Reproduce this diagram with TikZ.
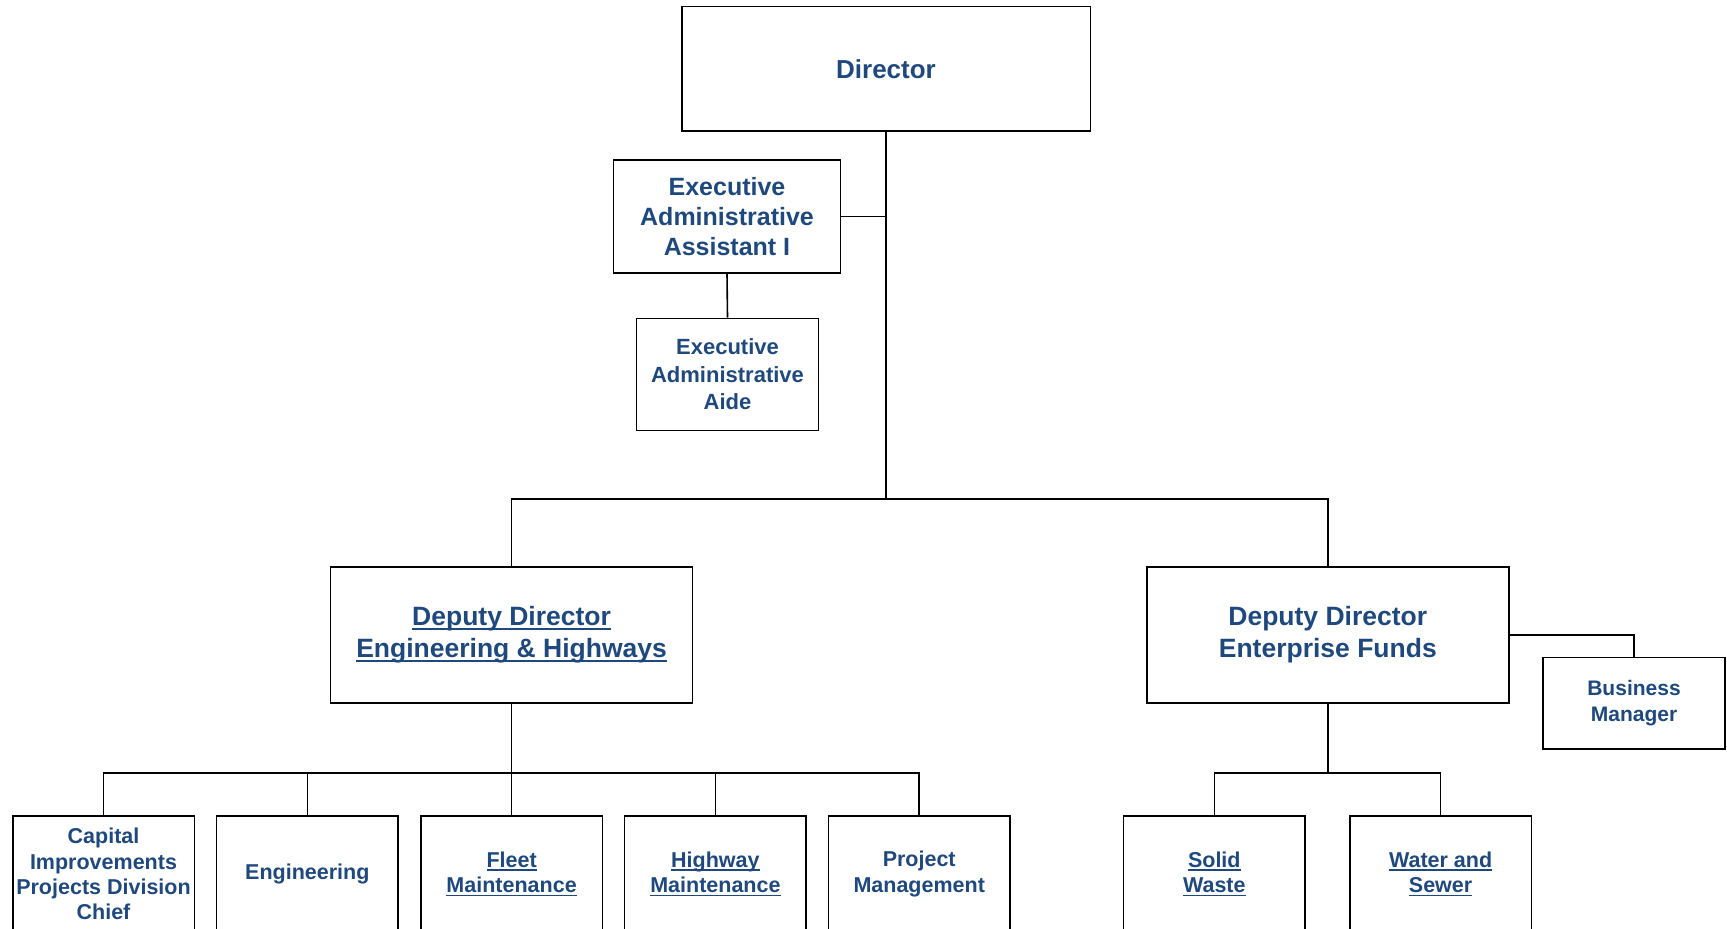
\documentclass[tikz,border=0pt]{standalone}
\usepackage{fontspec}
\setmainfont{Liberation Sans}
\usepackage{tikz}
\usetikzlibrary{positioning}
\definecolor{orgblue}{RGB}{31,73,125}
\newcommand{\ulink}[1]{\setbox0\hbox{#1}\rlap{\rule[-4pt]{\wd0}{1.8pt}}\box0}
\tikzset{
  basic/.style  = {draw, rectangle, line width=1.6pt, inner sep=0pt, align=center,
                   font=\bfseries, text=orgblue},
  top box/.style = {basic, font=\bfseries\fontsize{25}{30}\selectfont},
  mid box/.style = {basic, font=\bfseries\fontsize{26.5}{32}\selectfont,
                   minimum width=362pt, minimum height=135.5pt},
  unit box/.style = {basic, font=\bfseries\fontsize{21.5}{25.3}\selectfont,
                   minimum width=181.6pt, minimum height=116pt},
  link/.style = {line width=1.6pt}
}

\begin{document}
\begin{tikzpicture}[x=1pt,y=-1pt]
\useasboundingbox (0,0) rectangle (1727,929);
\clip (0,0) rectangle (1727,929);

% top of the chart
\node[top box, minimum width=408.6pt, minimum height=124.4pt,
      font=\bfseries\fontsize{26}{30}\selectfont] (dir) at (886,68.8) {Director};
\node[top box, minimum width=227pt, minimum height=113.4pt] (eaa) at (727,216.4)
  {Executive\\Administrative\\Assistant I};
\node[basic, minimum width=181.7pt, minimum height=112.3pt,
      font=\bfseries\fontsize{22}{27.5}\selectfont] (aide) at (727.5,374.5)
  {Executive\\Administrative\\Aide};

% deputies
\node[mid box] (ddeng) at (511.6,635) {\ulink{Deputy Director}\\\ulink{Engineering \& Highways}};
\node[mid box] (ddent) at (1327.8,635) {Deputy Director\\Enterprise Funds};
\node[basic, minimum width=181.8pt, minimum height=91.5pt,
      font=\bfseries\fontsize{21}{26.4}\selectfont] (bm) at (1634,703.3) {Business\\Manager};

% divisions
\node[unit box] (cap) at (103.5,874) {Capital\\Improvements\\Projects Division\\Chief};
\node[unit box] (eng) at (307.3,874) {Engineering};
\node[unit box] (fleet) at (511.6,874) {\ulink{Fleet}\\\ulink{Maintenance}};
\node[unit box] (hwy) at (715.4,874) {\ulink{Highway}\\\ulink{Maintenance}};
\node[unit box] (proj) at (919.2,874) {Project\\Management};
\node[unit box] (solid) at (1214.3,874) {\ulink{Solid}\\\ulink{Waste}};
\node[unit box] (water) at (1440.6,874) {\ulink{Water and}\\\ulink{Sewer}};

\coordinate (top) at (886,499);
\coordinate (engbus) at (511.6,773.2);
\coordinate (entbus) at (1327.8,773.2);

% connectors
\draw[link] (dir.south) -- (top);
\draw[link] (eaa.east) -- (eaa.east -| dir.south);
\draw[link] (eaa.south) -- (aide.north);
\draw[link] (ddeng.north) |- (top) -| (ddent.north);
\draw[link] (ddent.east) -| (bm.north);
\draw[link] (ddeng.south) -- (engbus);
\draw[link] (cap.north) |- (engbus) -| (proj.north);
\foreach \n in {eng,fleet,hwy}
  \draw[link] (\n.north) -- (\n.north |- engbus);
\draw[link] (ddent.south) -- (entbus);
\draw[link] (solid.north) |- (entbus) -| (water.north);
\end{tikzpicture}
\end{document}
